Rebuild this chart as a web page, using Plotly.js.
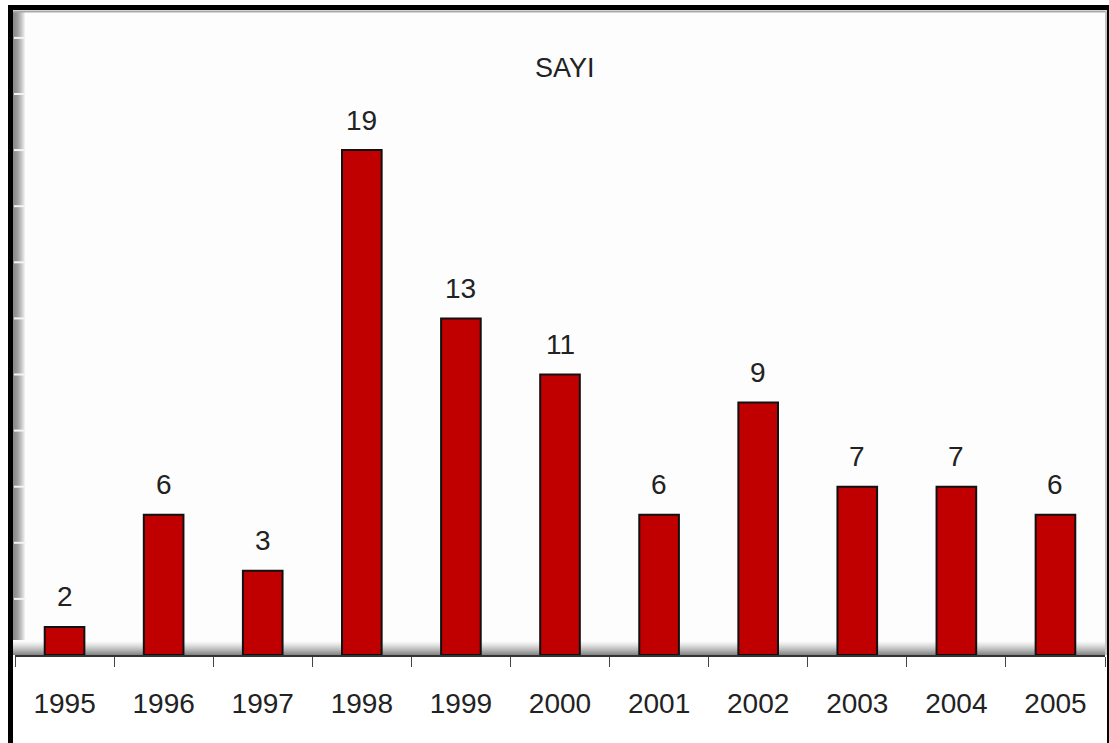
<!DOCTYPE html>
<html>
<head>
<meta charset="utf-8">
<script src="https://cdn.plot.ly/plotly-3.0.1.min.js"></script>
<style>
html,body{margin:0;padding:0;background:#fff;}
#chart{width:1109px;height:743px;}
</style>
</head>
<body>
<div id="chart"></div>
<script>
// Data
var years = ["1995","1996","1997","1998","1999","2000","2001","2002","2003","2004","2005"];
var barHeights = [0.5, 2.5, 1.5, 9, 6, 5, 2.5, 4.5, 3, 3, 2.5];
var barLabels = ["2","6","3","19","13","11","6","9","7","7","6"];
var chartTitle = "SAYI";

// Pixel geometry helpers (style only)
var L = 15, R = 1105, T = 11, B = 655;
function fx(p){ return (p - L) / (R - L); }
function fy(p){ return (B - p) / (B - T); }

var FONT = "Liberation Sans, Arial, sans-serif";
var FS = 28;
var shapes = [];

// left wall gradient
for (var i = 0; i < 13; i++) {
  var g = Math.round(140 + (253 - 140) * Math.pow(i / 12, 1.6));
  shapes.push({type:"rect", xref:"paper", yref:"paper", layer:"below",
    x0: fx(13 + i), x1: fx(14 + i), y0: fy(B), y1: fy(T),
    fillcolor:"rgb(" + g + "," + g + "," + g + ")", line:{width:0}});
}
// floor gradient
for (var j = 0; j < 15; j++) {
  var g2 = Math.round(253 - (253 - 135) * Math.pow(j / 14, 1.3));
  shapes.push({type:"rect", xref:"paper", yref:"paper", layer:"below",
    x0: fx(13), x1: fx(R), y0: fy(640 + j), y1: fy(641 + j),
    fillcolor:"rgb(" + g2 + "," + g2 + "," + g2 + ")", line:{width:0}});
}
// white tick lines on the wall
for (var k = 1; k <= 11; k++) {
  shapes.push({type:"line", xref:"paper", yref:"y", layer:"below",
    x0: fx(14), x1: fx(26), y0: k, y1: k, line:{color:"#f4f4f4", width:2}});
}
// top grey edge and right grey edge of the plot area
shapes.push({type:"line", xref:"paper", yref:"paper", x0: fx(13), x1: fx(1107), y0: fy(11.5), y1: fy(11.5), line:{color:"#a8a8a8", width:2}});
shapes.push({type:"line", xref:"paper", yref:"paper", x0: fx(1106), x1: fx(1106), y0: fy(11), y1: fy(655), line:{color:"#c4c4c4", width:2}});
// black outer frame
shapes.push({type:"rect", xref:"paper", yref:"paper", x0: fx(8), x1: fx(1109), y0: fy(5), y1: fy(10), fillcolor:"#000", line:{width:0}});
shapes.push({type:"rect", xref:"paper", yref:"paper", x0: fx(8), x1: fx(13), y0: fy(5), y1: fy(743), fillcolor:"#000", line:{width:0}});
shapes.push({type:"line", xref:"paper", yref:"paper", x0: fx(1108), x1: fx(1108), y0: fy(5), y1: fy(743), line:{color:"#000", width:2}});

var annotations = [];
for (var a = 0; a < years.length; a++) {
  annotations.push({x: a, y: barHeights[a], xref:"x", yref:"y",
    text: barLabels[a], showarrow:false, yanchor:"middle", yshift: 30,
    font:{family: FONT, size: FS, color:"#222"}});
}
annotations.push({x: fx(565), y: fy(68), xref:"paper", yref:"paper", text: chartTitle,
  showarrow:false, xanchor:"center", yanchor:"middle",
  font:{family: FONT, size: 27, color:"#222"}});

var trace = {
  type:"bar", x: years, y: barHeights, width: 0.4,
  marker:{color:"#C00000", line:{color:"#111", width:2}},
  hoverinfo:"none"
};

var layout = {
  width:1109, height:743,
  margin:{l:L, r:1109 - R, t:T, b:743 - B, pad:0},
  paper_bgcolor:"#ffffff", plot_bgcolor:"#fdfdfd",
  showlegend:false, bargap:0.6,
  font:{family: FONT, color:"#222"},
  xaxis:{type:"category", range:[-0.5, years.length - 0.5], autorange:false,
    showgrid:false, zeroline:false,
    showline:true, linecolor:"#333", linewidth:2,
    ticks:"outside", tickson:"boundaries", ticklen:10, tickwidth:1, tickcolor:"#444",
    ticklabelstandoff: 22, tickangle:0,
    tickfont:{family: FONT, size:FS, color:"#222"}, fixedrange:true},
  yaxis:{range:[0, (B - T) / 56.1], autorange:false, showgrid:false, zeroline:false, showline:false,
    showticklabels:false, ticks:"", fixedrange:true},
  shapes: shapes,
  annotations: annotations
};

Plotly.newPlot("chart", [trace], layout, {staticPlot:true, displayModeBar:false});
</script>
</body>
</html>
